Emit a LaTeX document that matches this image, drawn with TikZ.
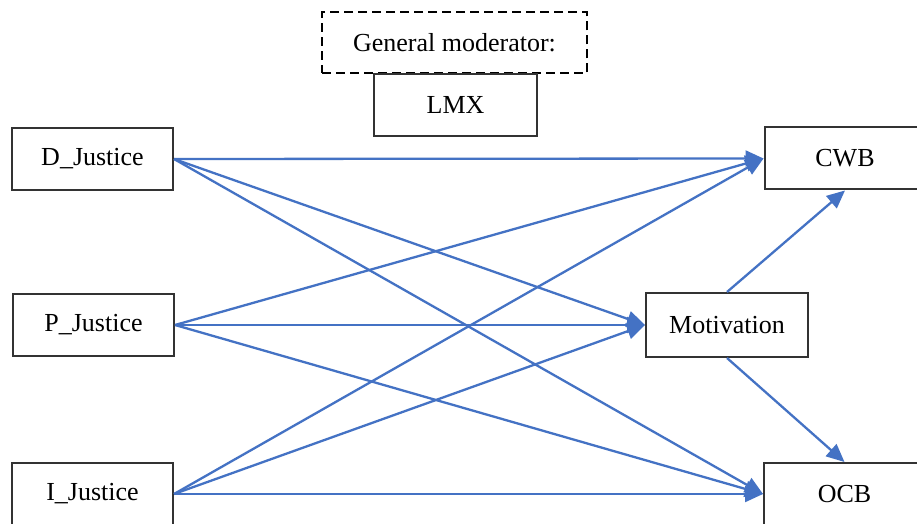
\documentclass[tikz,border=0pt]{standalone}
\usepackage{fontspec}
\setmainfont{Liberation Serif}
\usetikzlibrary{arrows.meta}

\definecolor{pathblue}{RGB}{68,114,196}

\tikzset{
	box/.style={draw=black!80, line width=2pt, fill=white, minimum width=161pt, minimum height=62pt, inner sep=0pt, font=\fontsize{26}{30}\selectfont},
	dashbox/.style={box, draw=black, dash pattern=on 9pt off 5pt, line width=2pt},
	pathline/.style={draw=pathblue, line width=2.3pt, -{Triangle[length=18pt,width=16pt]}}
}

\begin{document}
\begin{tikzpicture}[x=1pt,y=1pt]
	\useasboundingbox[fill=white] (0,0) rectangle (917,524);
	% moderator on top
	\node[dashbox, minimum width=265pt, minimum height=61pt] (moderator) at (454.5,481) {General moderator:};
	\node[box, minimum width=163pt] (lmx) at (455.5,419) {LMX};
	% predictors
	\node[box] (djustice) at (92.5,365) {D\_Justice};
	\node[box] (pjustice) at (93.5,199) {P\_Justice};
	\node[box] (ijustice) at (92.5,30) {I\_Justice};
	% mediator and outcomes
	\node[box, minimum width=162pt, minimum height=64pt] (motivation) at (727,199) {Motivation};
	\node[box] (cwb) at (845,365.5) {CWB};
	\node[box] (ocb) at (844.5,30) {OCB};
	% paths
	\foreach \src in {djustice,pjustice,ijustice} {
		\draw[pathline] (\src.east) -- (cwb.west);
		\draw[pathline] (\src.east) -- (motivation.west);
		\draw[pathline] (\src.east) -- (ocb.west);
	}
	\draw[pathline] (motivation.north) -- (cwb.south);
	\draw[pathline] (motivation.south) -- (ocb.north);
\end{tikzpicture}
\end{document}
